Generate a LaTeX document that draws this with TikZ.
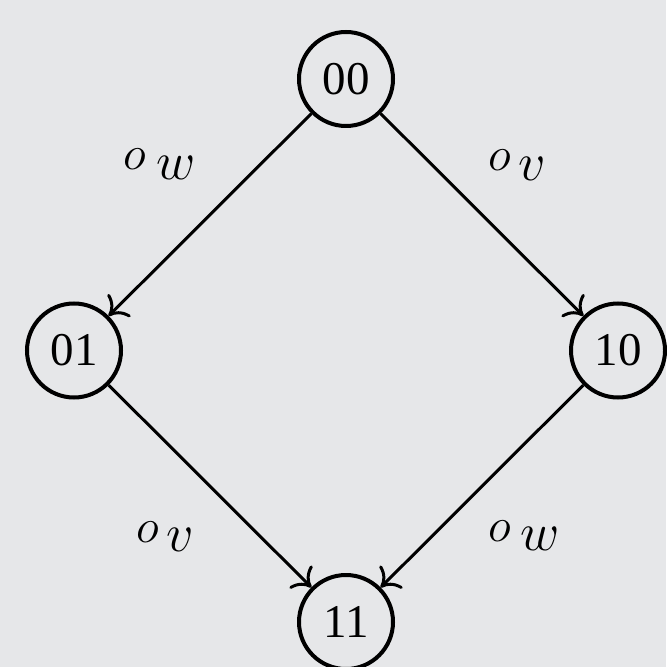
\RequirePackage{fix-cm}
\documentclass[tikz,border=0pt]{standalone}
\usepackage{fontspec}
\setmainfont{Liberation Serif}
\usetikzlibrary{arrows.meta}
\definecolor{bgc}{RGB}{230,231,233}
\tikzset{
  state/.style={circle,draw,line width=2pt,minimum size=47pt,inner sep=0pt,
    font=\fontsize{23.5}{28}\selectfont},
  trans/.style={-{To[length=8pt,width=16pt]},line width=1.5pt},
  lab/.style={inner sep=0pt,anchor=base west}
}
\newcommand{\olab}[2]{{\fontsize{24}{28}\selectfont$o$}\hspace{#2}\raisebox{-4.8pt}{\fontsize{27}{32}\selectfont$#1$}}
\begin{document}
\begin{tikzpicture}[x=0.5pt,y=-0.5pt]
\fill[bgc] (0,0) rectangle (666,667);
\useasboundingbox (0,0) rectangle (666,667);
\node[state] (n00) at (346,79) {00};
\node[state] (n01) at (74,350.5) {01};
\node[state] (n10) at (618,350.5) {10};
\node[state] (n11) at (346,622) {11};
\draw[trans] (n00) -- (n01);
\draw[trans] (n00) -- (n10);
\draw[trans] (n01) -- (n11);
\draw[trans] (n10) -- (n11);
\node[lab] (l1) at (123.5,170) {\olab{w}{4.9pt}};
\node[lab] (l2) at (488.5,171) {\olab{v}{3.5pt}};
\node[lab] (l3) at (136.5,542) {\olab{v}{3.5pt}};
\node[lab] (l4) at (488.5,541) {\olab{w}{4.4pt}};
\end{tikzpicture}
\end{document}
